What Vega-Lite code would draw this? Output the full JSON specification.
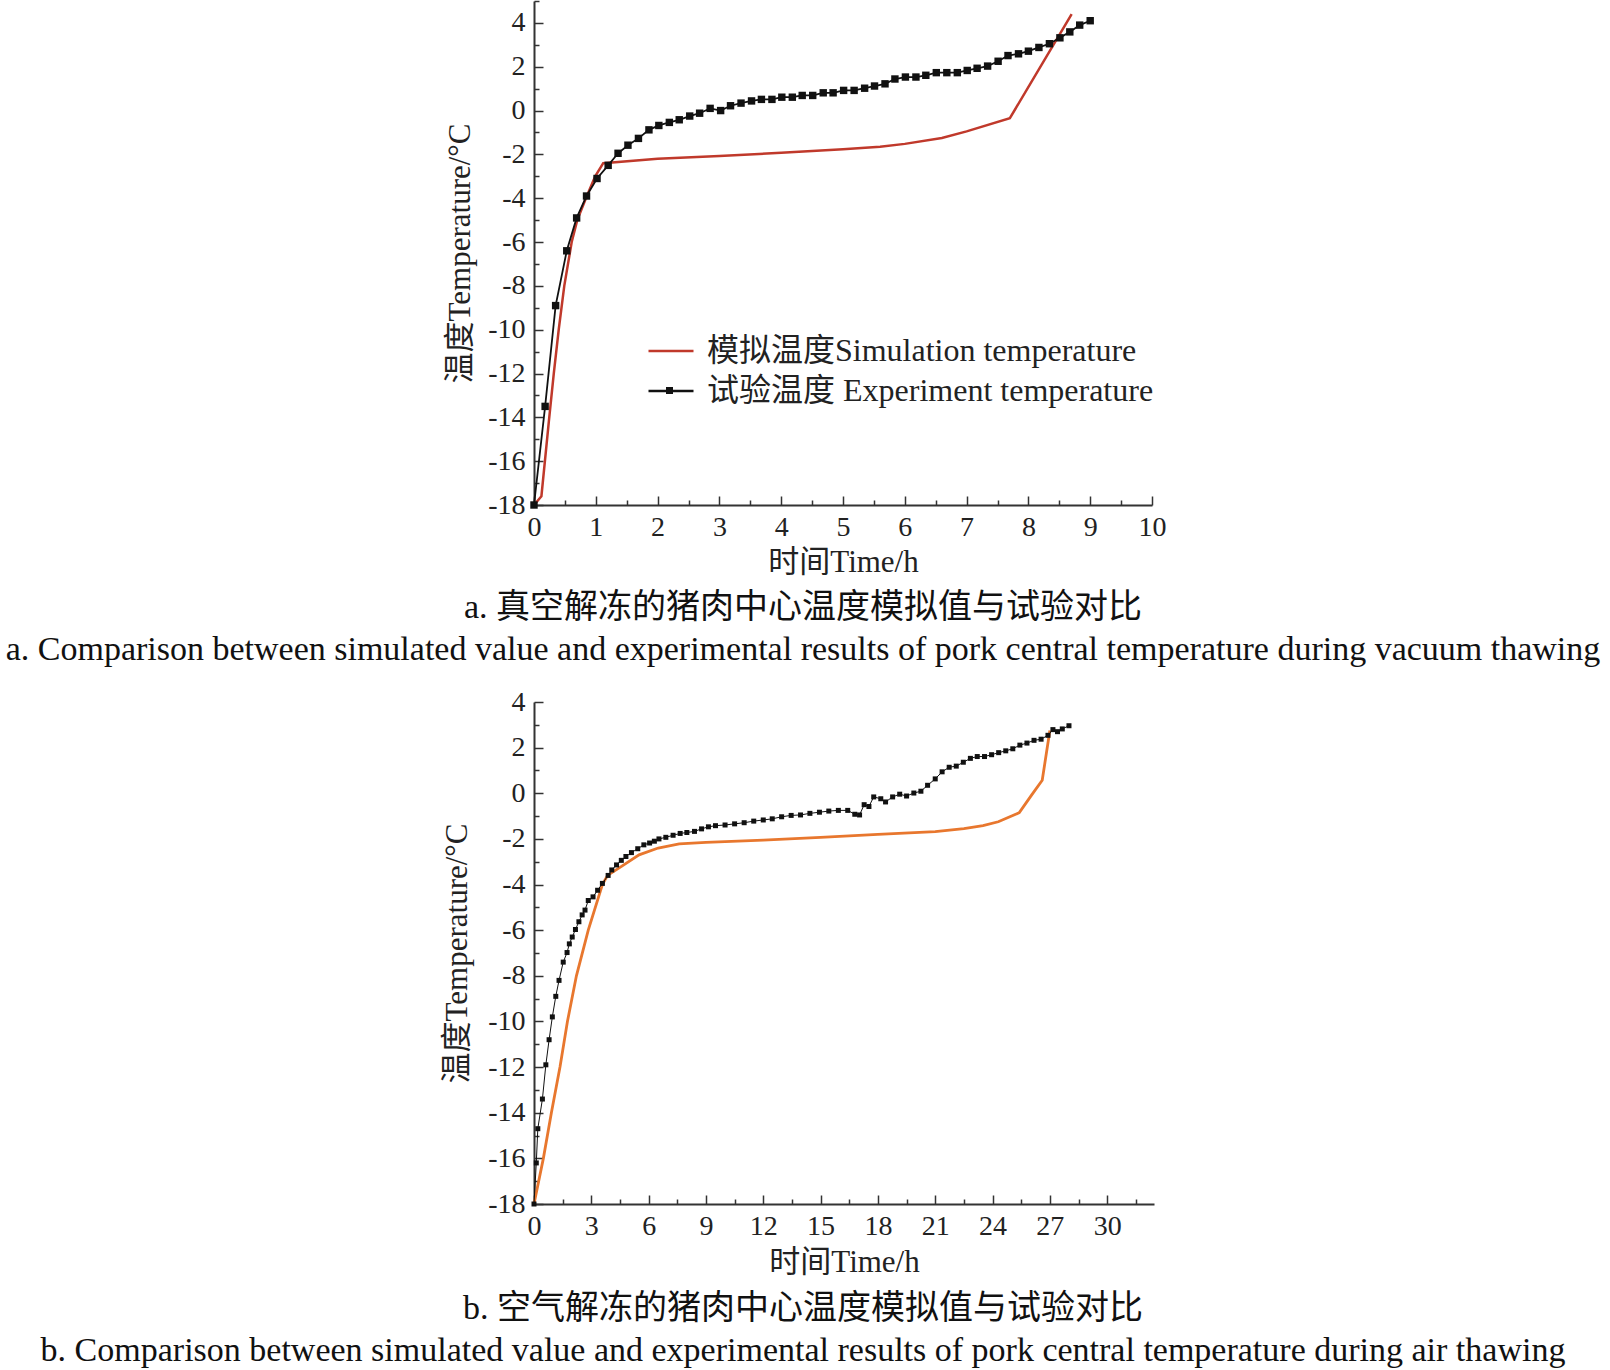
{
  "$schema": "https://vega.github.io/schema/vega-lite/v6.json",
  "autosize": {"type": "pad"},
  "padding": {"left": 5, "top": 0, "right": 0, "bottom": 0},
  "background": "white",
  "bounds": "flush",
  "spacing": 197,
  "config": {
    "view": {"stroke": null},
    "font": "Liberation Serif, Noto Sans CJK SC",
    "axis": {
      "grid": false,
      "domainColor": "#333",
      "domainWidth": 2,
      "tickColor": "#333",
      "tickWidth": 1.5,
      "labelFont": "Liberation Serif, Noto Sans CJK SC",
      "labelFontSize": 28,
      "labelColor": "#222",
      "titleFont": "Liberation Serif, Noto Sans CJK SC",
      "titleFontSize": 31,
      "titleFontWeight": "normal",
      "titleColor": "#222"
    },
    "title": {
      "font": "Liberation Serif, Noto Sans CJK SC",
      "fontSize": 34,
      "fontWeight": "normal",
      "color": "#111",
      "subtitleFont": "Liberation Serif, Noto Sans CJK SC",
      "subtitleFontSize": 34,
      "subtitleColor": "#111",
      "subtitlePadding": 8
    }
  },
  "datasets": {
    "simA": [
      {"t": 0, "v": -18}, {"t": 0.12, "v": -17.6}, {"t": 0.24, "v": -14.2}, {"t": 0.32, "v": -12.0},
      {"t": 0.40, "v": -10.0}, {"t": 0.49, "v": -8.0}, {"t": 0.61, "v": -6.0}, {"t": 0.70, "v": -5.0},
      {"t": 0.84, "v": -4.0}, {"t": 0.99, "v": -3.0}, {"t": 1.12, "v": -2.4}, {"t": 2.0, "v": -2.2},
      {"t": 3.0, "v": -2.07}, {"t": 4.0, "v": -1.93}, {"t": 5.0, "v": -1.77}, {"t": 5.6, "v": -1.65},
      {"t": 6.0, "v": -1.52}, {"t": 6.6, "v": -1.25}, {"t": 7.0, "v": -0.95}, {"t": 7.7, "v": -0.35},
      {"t": 8.7, "v": 4.4}
    ],
    "expA": [
      {"t": 0, "v": -18}, {"t": 0.18, "v": -13.5}, {"t": 0.35, "v": -8.9}, {"t": 0.53, "v": -6.4},
      {"t": 0.69, "v": -4.9}, {"t": 0.85, "v": -3.9}, {"t": 1.02, "v": -3.1}, {"t": 1.2, "v": -2.5},
      {"t": 1.36, "v": -1.95}, {"t": 1.52, "v": -1.58}, {"t": 1.69, "v": -1.27}, {"t": 1.86, "v": -0.88},
      {"t": 2.02, "v": -0.68}, {"t": 2.19, "v": -0.54}, {"t": 2.35, "v": -0.42}, {"t": 2.52, "v": -0.25},
      {"t": 2.68, "v": -0.12}, {"t": 2.85, "v": 0.1}, {"t": 3.02, "v": 0.0}, {"t": 3.18, "v": 0.22},
      {"t": 3.35, "v": 0.34}, {"t": 3.52, "v": 0.44}, {"t": 3.68, "v": 0.51}, {"t": 3.85, "v": 0.51},
      {"t": 4.01, "v": 0.61}, {"t": 4.18, "v": 0.61}, {"t": 4.34, "v": 0.69}, {"t": 4.51, "v": 0.69},
      {"t": 4.68, "v": 0.81}, {"t": 4.84, "v": 0.81}, {"t": 5.01, "v": 0.92}, {"t": 5.18, "v": 0.92},
      {"t": 5.35, "v": 1.02}, {"t": 5.51, "v": 1.12}, {"t": 5.68, "v": 1.22}, {"t": 5.84, "v": 1.44},
      {"t": 6.01, "v": 1.53}, {"t": 6.18, "v": 1.53}, {"t": 6.34, "v": 1.61}, {"t": 6.51, "v": 1.73},
      {"t": 6.68, "v": 1.73}, {"t": 6.85, "v": 1.73}, {"t": 7.01, "v": 1.83}, {"t": 7.17, "v": 1.93},
      {"t": 7.34, "v": 2.03}, {"t": 7.51, "v": 2.25}, {"t": 7.67, "v": 2.51}, {"t": 7.84, "v": 2.59},
      {"t": 8.0, "v": 2.71}, {"t": 8.17, "v": 2.88}, {"t": 8.34, "v": 3.05}, {"t": 8.51, "v": 3.32},
      {"t": 8.67, "v": 3.59}, {"t": 8.83, "v": 3.9}, {"t": 9.0, "v": 4.1}
    ],
    "simB": [
      {"t": 0, "v": -18}, {"t": 0.49, "v": -16}, {"t": 0.91, "v": -14}, {"t": 1.36, "v": -12},
      {"t": 1.75, "v": -10}, {"t": 2.22, "v": -8}, {"t": 2.84, "v": -6}, {"t": 3.58, "v": -4},
      {"t": 3.85, "v": -3.6}, {"t": 4.5, "v": -3.25}, {"t": 5.5, "v": -2.7}, {"t": 6.5, "v": -2.4},
      {"t": 7.6, "v": -2.22}, {"t": 9, "v": -2.15}, {"t": 12, "v": -2.05}, {"t": 15, "v": -1.93},
      {"t": 18, "v": -1.8}, {"t": 21, "v": -1.68}, {"t": 22.5, "v": -1.55}, {"t": 23.5, "v": -1.42},
      {"t": 24.3, "v": -1.25}, {"t": 25.4, "v": -0.85}, {"t": 26.05, "v": -0.07}, {"t": 26.6, "v": 0.57},
      {"t": 27.0, "v": 2.75}
    ],
    "expB": [
      {"t": 0, "v": -18}, {"t": 0.12, "v": -16.2}, {"t": 0.2, "v": -14.7}, {"t": 0.44, "v": -13.4},
      {"t": 0.62, "v": -11.9}, {"t": 0.79, "v": -10.8}, {"t": 0.96, "v": -9.8}, {"t": 1.14, "v": -8.9},
      {"t": 1.31, "v": -8.2}, {"t": 1.53, "v": -7.4}, {"t": 1.73, "v": -6.98}, {"t": 1.85, "v": -6.6},
      {"t": 2.0, "v": -6.3}, {"t": 2.17, "v": -5.97}, {"t": 2.35, "v": -5.63}, {"t": 2.52, "v": -5.33},
      {"t": 2.67, "v": -5.12}, {"t": 2.84, "v": -4.7}, {"t": 3.09, "v": -4.54}, {"t": 3.33, "v": -4.25},
      {"t": 3.58, "v": -3.95}, {"t": 3.88, "v": -3.6}, {"t": 4.07, "v": -3.36}, {"t": 4.32, "v": -3.14},
      {"t": 4.57, "v": -2.94}, {"t": 4.81, "v": -2.77}, {"t": 5.1, "v": -2.6}, {"t": 5.43, "v": -2.43},
      {"t": 5.75, "v": -2.26}, {"t": 6.05, "v": -2.18}, {"t": 6.3, "v": -2.1}, {"t": 6.54, "v": -2.0},
      {"t": 6.9, "v": -1.93}, {"t": 7.28, "v": -1.84}, {"t": 7.65, "v": -1.76}, {"t": 8.0, "v": -1.72},
      {"t": 8.4, "v": -1.67}, {"t": 8.77, "v": -1.56}, {"t": 9.13, "v": -1.47}, {"t": 9.5, "v": -1.42},
      {"t": 10.0, "v": -1.39}, {"t": 10.5, "v": -1.34}, {"t": 11.0, "v": -1.29}, {"t": 11.5, "v": -1.22},
      {"t": 12.0, "v": -1.17}, {"t": 12.47, "v": -1.12}, {"t": 12.96, "v": -1.03}, {"t": 13.46, "v": -0.97},
      {"t": 13.95, "v": -0.95}, {"t": 14.44, "v": -0.88}, {"t": 14.94, "v": -0.83}, {"t": 15.43, "v": -0.78},
      {"t": 15.93, "v": -0.75}, {"t": 16.42, "v": -0.75}, {"t": 16.79, "v": -0.92}, {"t": 17.04, "v": -0.95},
      {"t": 17.28, "v": -0.5}, {"t": 17.53, "v": -0.58}, {"t": 17.78, "v": -0.16}, {"t": 18.15, "v": -0.24},
      {"t": 18.4, "v": -0.38}, {"t": 18.77, "v": -0.16}, {"t": 19.14, "v": -0.04}, {"t": 19.5, "v": -0.12},
      {"t": 19.88, "v": 0.01}, {"t": 20.25, "v": 0.09}, {"t": 20.6, "v": 0.35}, {"t": 21.0, "v": 0.63},
      {"t": 21.36, "v": 0.94}, {"t": 21.73, "v": 1.14}, {"t": 22.1, "v": 1.19}, {"t": 22.47, "v": 1.36},
      {"t": 22.84, "v": 1.53}, {"t": 23.2, "v": 1.61}, {"t": 23.58, "v": 1.61}, {"t": 23.95, "v": 1.69},
      {"t": 24.32, "v": 1.78}, {"t": 24.69, "v": 1.86}, {"t": 25.06, "v": 1.95}, {"t": 25.43, "v": 2.11},
      {"t": 25.8, "v": 2.2}, {"t": 26.17, "v": 2.32}, {"t": 26.54, "v": 2.37}, {"t": 26.9, "v": 2.54},
      {"t": 27.16, "v": 2.79}, {"t": 27.4, "v": 2.7}, {"t": 27.65, "v": 2.82}, {"t": 28.0, "v": 2.96}
    ]
  },
  "vconcat": [
    {
      "width": 618,
      "height": 504,
      "title": {
        "text": "a.  真空解冻的猪肉中心温度模拟值与试验对比",
        "subtitle": "a. Comparison between simulated value and experimental results of pork central temperature during vacuum thawing",
        "orient": "bottom",
        "anchor": "middle",
        "dx": -40,
        "offset": 14
      },
      "resolve": {"axis": {"x": "independent", "y": "independent"}},
      "layer": [
        {
          "data": {"name": "simA"},
          "mark": {"type": "line", "strokeWidth": 2.5},
          "encoding": {
            "x": {"field": "t", "type": "quantitative",
              "scale": {"domain": [0, 10], "nice": false, "zero": false},
              "axis": {"values": [0,1,2,3,4,5,6,7,8,9,10], "title": "时间Time/h", "tickSize": -9, "labelPadding": 17, "labelFlush": false, "titleY": 57, "titleBaseline": "middle"}},
            "y": {"field": "v", "type": "quantitative",
              "scale": {"domain": [-18, 5], "nice": false, "zero": false},
              "axis": {"values": [-18,-16,-14,-12,-10,-8,-6,-4,-2,0,2,4], "labelExpr": "datum.value < 0 ? '-' + abs(datum.value) : '' + datum.value", "title": "温度Temperature/°C", "tickSize": -9, "labelPadding": 18, "labelFlush": false, "titleX": -74, "titleY": 252, "titleAngle": -90, "titleBaseline": "middle", "titleAlign": "center"}},
            "color": {
              "datum": "模拟温度Simulation temperature",
              "type": "nominal",
              "scale": {"domain": ["模拟温度Simulation temperature", "试验温度 Experiment temperature"], "range": ["#c0392b", "#111111"]},
              "legend": {
                "title": null,
                "orient": "none",
                "legendX": 113,
                "legendY": 326,
                "symbolType": "stroke",
                "symbolSize": 2025,
                "symbolStrokeWidth": 2.5,
                "labelFont": "Liberation Serif, Noto Sans CJK SC",
                "labelFontSize": 32,
                "labelColor": "#222",
                "labelOffset": 12,
                "labelLimit": 700,
                "rowPadding": -6
              }
            }
          }
        },
        {
          "data": {"name": "expA"},
          "mark": {"type": "line", "strokeWidth": 1.8},
          "encoding": {
            "x": {"field": "t", "type": "quantitative",
              "scale": {"domain": [0, 10], "nice": false, "zero": false},
              "axis": {"orient": "bottom", "values": [0.5,1.5,2.5,3.5,4.5,5.5,6.5,7.5,8.5,9.5], "labels": false, "domain": false, "tickSize": -5, "title": null}},
            "y": {"field": "v", "type": "quantitative",
              "scale": {"domain": [-18, 5], "nice": false, "zero": false},
              "axis": {"orient": "left", "values": [-17,-15,-13,-11,-9,-7,-5,-3,-1,1,3,5], "labels": false, "domain": false, "tickSize": -5, "title": null}},
            "color": {"datum": "试验温度 Experiment temperature", "type": "nominal"}
          }
        },
        {
          "data": {"name": "expA"},
          "mark": {"type": "point", "shape": "square", "size": 55, "filled": true, "opacity": 1, "color": "#111111"},
          "encoding": {
            "x": {"field": "t", "type": "quantitative", "scale": {"domain": [0, 10], "nice": false, "zero": false}, "axis": null},
            "y": {"field": "v", "type": "quantitative", "scale": {"domain": [-18, 5], "nice": false, "zero": false}, "axis": null},
            "shape": {
              "datum": " ",
              "type": "nominal",
              "scale": {"domain": [" "], "range": ["square"]},
              "legend": {
                "title": null,
                "orient": "none",
                "legendX": 132,
                "legendY": 386,
                "symbolSize": 49,
                "symbolFillColor": "#111111",
                "symbolStrokeColor": "#111111",
                "symbolStrokeWidth": 0,
                "labelFontSize": 2,
                "labelOffset": 0,
                "padding": 0
              }
            }
          }
        }
      ]
    },
    {
      "width": 620,
      "height": 502,
      "title": {
        "text": "b.  空气解冻的猪肉中心温度模拟值与试验对比",
        "subtitle": "b. Comparison between simulated value and experimental results of pork central temperature during air thawing",
        "orient": "bottom",
        "anchor": "middle",
        "dx": -41,
        "offset": 15
      },
      "resolve": {"axis": {"x": "independent", "y": "independent"}},
      "layer": [
        {
          "data": {"name": "simB"},
          "mark": {"type": "line", "strokeWidth": 2.8, "color": "#e8772e"},
          "encoding": {
            "x": {"field": "t", "type": "quantitative",
              "scale": {"domain": [0, 32.45], "nice": false, "zero": false},
              "axis": {"values": [0,3,6,9,12,15,18,21,24,27,30], "title": "时间Time/h", "tickSize": -9, "labelPadding": 17, "labelFlush": false, "titleY": 58, "titleBaseline": "middle"}},
            "y": {"field": "v", "type": "quantitative",
              "scale": {"domain": [-18, 4], "nice": false, "zero": false},
              "axis": {"values": [-18,-16,-14,-12,-10,-8,-6,-4,-2,0,2,4], "labelExpr": "datum.value < 0 ? '-' + abs(datum.value) : '' + datum.value", "title": "温度Temperature/°C", "tickSize": -9, "labelPadding": 18, "labelFlush": false, "titleX": -77, "titleY": 251, "titleAngle": -90, "titleBaseline": "middle", "titleAlign": "center"}}
          }
        },
        {
          "data": {"name": "expB"},
          "mark": {"type": "line", "strokeWidth": 1, "color": "#111111"},
          "encoding": {
            "x": {"field": "t", "type": "quantitative",
              "scale": {"domain": [0, 32.45], "nice": false, "zero": false},
              "axis": {"orient": "bottom", "values": [1.5,4.5,7.5,10.5,13.5,16.5,19.5,22.5,25.5,28.5,31.5], "labels": false, "domain": false, "tickSize": -5, "title": null}},
            "y": {"field": "v", "type": "quantitative",
              "scale": {"domain": [-18, 4], "nice": false, "zero": false},
              "axis": {"orient": "left", "values": [-17,-15,-13,-11,-9,-7,-5,-3,-1,1,3], "labels": false, "domain": false, "tickSize": -5, "title": null}}
          }
        },
        {
          "data": {"name": "expB"},
          "mark": {"type": "square", "size": 25, "filled": true, "opacity": 1, "color": "#111111"},
          "encoding": {
            "x": {"field": "t", "type": "quantitative", "scale": {"domain": [0, 32.45], "nice": false, "zero": false}, "axis": null},
            "y": {"field": "v", "type": "quantitative", "scale": {"domain": [-18, 4], "nice": false, "zero": false}, "axis": null}
          }
        }
      ]
    }
  ]
}
